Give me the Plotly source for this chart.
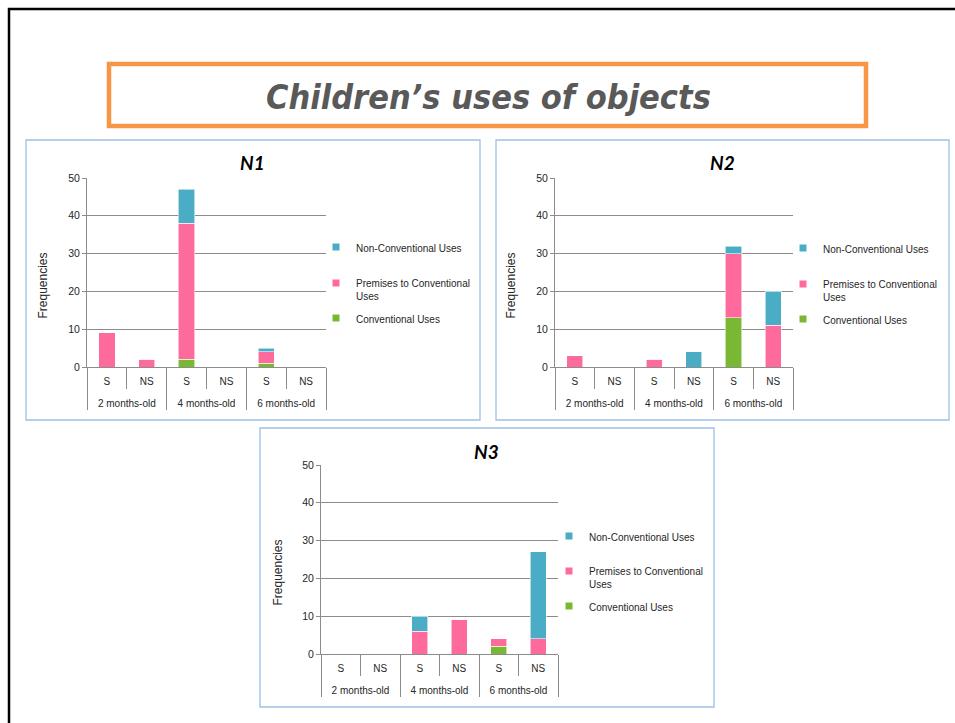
import plotly.graph_objects as go

# ---- data -------------------------------------------------------------
groups = ["2 months-old", "2 months-old", "4 months-old", "4 months-old",
          "6 months-old", "6 months-old"]
subcats = ["S", "NS", "S", "NS", "S", "NS"]

series_names = ["Conventional Uses", "Premises to Conventional<br>Uses",
                "Non-Conventional Uses"]

n1_conv = [0, 0, 2, 0, 1, 0]
n1_prem = [9, 2, 36, 0, 3, 0]
n1_non = [0, 0, 9, 0, 1, 0]

n2_conv = [0, 0, 0, 0, 13, 0]
n2_prem = [3, 0, 2, 0, 17, 11]
n2_non = [0, 0, 0, 4, 2, 9]

n3_conv = [0, 0, 0, 0, 2, 0]
n3_prem = [0, 0, 6, 9, 2, 4]
n3_non = [0, 0, 4, 0, 0, 23]

panel_titles = ["N1", "N2", "N3"]
y_ticks = [0, 10, 20, 30, 40, 50]
y_title = "Frequencies"

# ---- styling ----------------------------------------------------------
W, H = 955, 723
COLORS = ["#7AB733", "#FF6A9C", "#4BACC6"]
FONT = "Liberation Sans, Arial, sans-serif"
TXT = "#262626"
GRID = "#8C8C8C"


def px(x):
    return x / W


def py(y):
    return 1 - y / H


# plot areas in pixels: (left, right, top, bottom)
plot_rects = [(87, 326, 178, 367), (555, 793, 178, 367), (321, 558, 465, 654)]
# panel frames (left, top, right, bottom)
frames = [(26, 140, 480, 420), (496, 140, 949, 420), (260, 428, 714, 707)]
# legend text x, and y of the three legend rows
legend_pos = [(356, [247, 283, 318]), (823, [248, 284, 319]), (589, [536, 571, 606])]

panels = [
    [n1_conv, n1_prem, n1_non],
    [n2_conv, n2_prem, n2_non],
    [n3_conv, n3_prem, n3_non],
]

# category slots: one per (group, sub-category) pair
slots = list(range(len(subcats)))
slot_bounds = [i - 0.5 for i in range(len(subcats) + 1)]
group_names, group_centers, group_bounds = [], [], [-0.5]
start = 0
for i in range(1, len(groups) + 1):
    if i == len(groups) or groups[i] != groups[start]:
        group_names.append(groups[start])
        group_centers.append((start + i - 1) / 2)
        group_bounds.append(i - 0.5)
        start = i
x_range = [slot_bounds[0], slot_bounds[-1]]

fig = go.Figure()
layout = dict(
    width=W, height=H, margin=dict(l=0, r=0, t=0, b=0, autoexpand=False),
    paper_bgcolor="white", plot_bgcolor="white",
    barmode="stack", bargap=0.59, showlegend=True,
    font=dict(family=FONT, size=10, color=TXT),
)

shapes = []
annotations = []

for p, series in enumerate(panels):
    xa = "x" if p == 0 else f"x{p + 1}"
    ya = "y" if p == 0 else f"y{p + 1}"
    ga = f"x{p + 4}"
    l, r, t, b = plot_rects[p]

    for s, vals in enumerate(series):
        fig.add_trace(go.Bar(
            x=slots, y=vals, name=series_names[s],
            marker=dict(color=COLORS[s], line=dict(color="rgba(255,255,255,0.7)", width=0.8)),
            xaxis=xa, yaxis=ya, showlegend=False,
        ))

    # empty trace that carries the age-group axis
    fig.add_trace(go.Scatter(
        x=group_centers, y=[None] * len(group_centers), mode="markers",
        xaxis=ga, yaxis=ya, showlegend=False, hoverinfo="skip",
    ))

    # legend entries, one small legend per row
    tx, rows = legend_pos[p]
    for s in (2, 1, 0):
        row = 2 - s
        idx = p * 3 + row
        lname = "legend" if idx == 0 else f"legend{idx + 1}"
        fig.add_trace(go.Scatter(
            x=[None], y=[None], mode="markers", name=series_names[s],
            marker=dict(symbol="square", size=7, color=COLORS[s]),
            xaxis=xa, yaxis=ya, legend=lname, showlegend=True,
        ))
        layout[lname] = dict(
            x=px(tx - 40), y=py(rows[row] - 13), xanchor="left", yanchor="top",
            bgcolor="rgba(0,0,0,0)", borderwidth=0, valign="top",
            font=dict(family=FONT, size=10, color=TXT), itemclick=False,
        )

    xkey = "xaxis" if p == 0 else f"xaxis{p + 1}"
    ykey = "yaxis" if p == 0 else f"yaxis{p + 1}"
    # inner row: S / NS labels with separators between slots
    layout[xkey] = dict(
        domain=[px(l), px(r)], anchor=ya, range=x_range,
        tickmode="array", tickvals=slots, ticktext=subcats, ticks="",
        ticklabelstandoff=5,
        minor=dict(tickmode="array", tickvals=slot_bounds, ticks="outside",
                   ticklen=21, tickcolor=GRID, showgrid=False),
        showline=True, linecolor=GRID, linewidth=1,
        tickfont=dict(family=FONT, size=10, color=TXT),
        showgrid=False, zeroline=False, fixedrange=True,
    )
    # outer row: age groups with longer separators
    layout[f"xaxis{p + 4}"] = dict(
        overlaying=xa, anchor=ya, side="bottom", range=x_range,
        tickmode="array", tickvals=group_centers, ticktext=group_names, ticks="",
        ticklabelstandoff=29,
        minor=dict(tickmode="array", tickvals=group_bounds, ticks="outside",
                   ticklen=42, tickcolor=GRID, showgrid=False),
        showline=False, tickfont=dict(family=FONT, size=10, color=TXT),
        showgrid=False, zeroline=False, fixedrange=True,
    )
    layout[ykey] = dict(
        domain=[py(b), py(t)], anchor=xa, range=[0, 50],
        tickvals=y_ticks, showgrid=True, gridcolor=GRID, gridwidth=1,
        showline=True, linecolor=GRID, ticks="outside", ticklen=4, tickcolor=GRID,
        tickfont=dict(family=FONT, size=10.5, color=TXT), zeroline=False,
        fixedrange=True,
    )

    # vertical axis caption
    annotations.append(dict(
        text=y_title, xref="paper", yref="paper", textangle=-90,
        x=px(l - 44), y=py((t + b + 26) / 2), xanchor="center", yanchor="middle",
        showarrow=False, font=dict(family=FONT, size=12, color=TXT),
    ))

    # panel frame and panel title
    fl, ft, fr, fb = frames[p]
    shapes.append(dict(type="rect", xref="paper", yref="paper",
                       x0=px(fl), x1=px(fr), y0=py(fb), y1=py(ft),
                       line=dict(color="#9DC0E8", width=1.3), layer="below"))
    annotations.append(dict(
        text=f"<b><i>{panel_titles[p]}</i></b>", xref="paper", yref="paper",
        x=px(fl + 226), y=py(ft + 23), xanchor="center", yanchor="middle",
        showarrow=False, font=dict(family="Lato, Open Sans, sans-serif", size=19, color="black"),
    ))

# slide border and header box
shapes.append(dict(type="path", xref="paper", yref="paper",
                   path=f"M {px(9)} 0 L {px(9)} {py(9)} L 1 {py(9)}",
                   line=dict(color="black", width=2.5)))
shapes.append(dict(type="rect", xref="paper", yref="paper",
                   x0=px(109), x1=px(866), y0=py(126), y1=py(64),
                   line=dict(color="#F79646", width=4.5)))
annotations.append(dict(
    text="<b><i>Children’s uses of objects</i></b>", xref="paper", yref="paper",
    x=px(488), y=py(97), xanchor="center", yanchor="middle", showarrow=False,
    font=dict(family="Liberation Sans Narrow, DejaVu Sans Condensed, sans-serif",
              size=34, color="#595959"),
))

layout["shapes"] = shapes
layout["annotations"] = annotations
fig.update_layout(**layout)

fig.write_html("out.html")
